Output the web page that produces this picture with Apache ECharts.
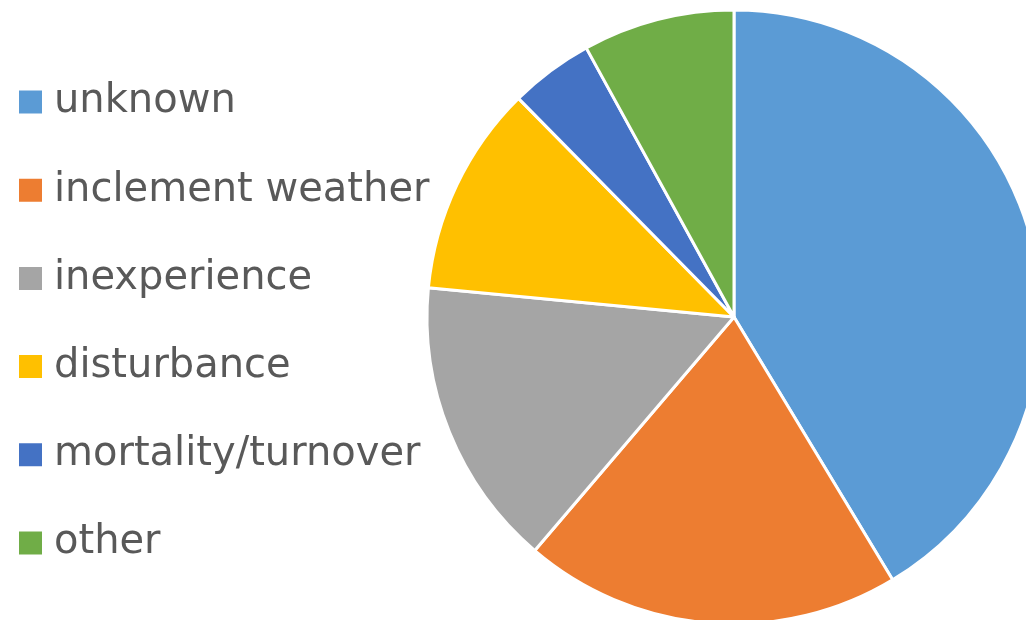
<!DOCTYPE html>
<html><head><meta charset="utf-8">
<script src="https://cdn.jsdelivr.net/npm/echarts@6/dist/echarts.min.js"></script>
<style>html,body{margin:0;padding:0;background:#fff}#c{width:1026px;height:620px}</style>
</head><body><div id="c"></div>
<script>
const categories = ["unknown","inclement weather","inexperience","disturbance","mortality/turnover","other"];
const values = [41.4, 19.9, 15.3, 11.1, 4.4, 8.0];
const colors = ["#5B9BD5","#ED7D31","#A5A5A5","#FFC000","#4472C4","#70AD47"];
const chart = echarts.init(document.getElementById('c'), null, {renderer:'canvas'});
chart.setOption({
  animation:false,
  color: colors,
  legend:{
    orient:'vertical', left:17, top:82, padding:0,
    itemWidth:25, itemHeight:25, itemGap:48.2,
    icon:'rect',
    textStyle:{fontFamily:'DejaVu Sans', fontSize:40, color:'#595959', lineHeight:40, padding:[0,0,0,6]},
    data: categories
  },
  series:[{
    type:'pie', center:[734,317], radius:307, startAngle:90, clockwise:true,
    label:{show:false}, labelLine:{show:false},
    itemStyle:{borderColor:'#fff', borderWidth:3},
    emphasis:{disabled:true},
    data: categories.map((n,i)=>({name:n, value:values[i]}))
  }]
});
</script></body></html>
